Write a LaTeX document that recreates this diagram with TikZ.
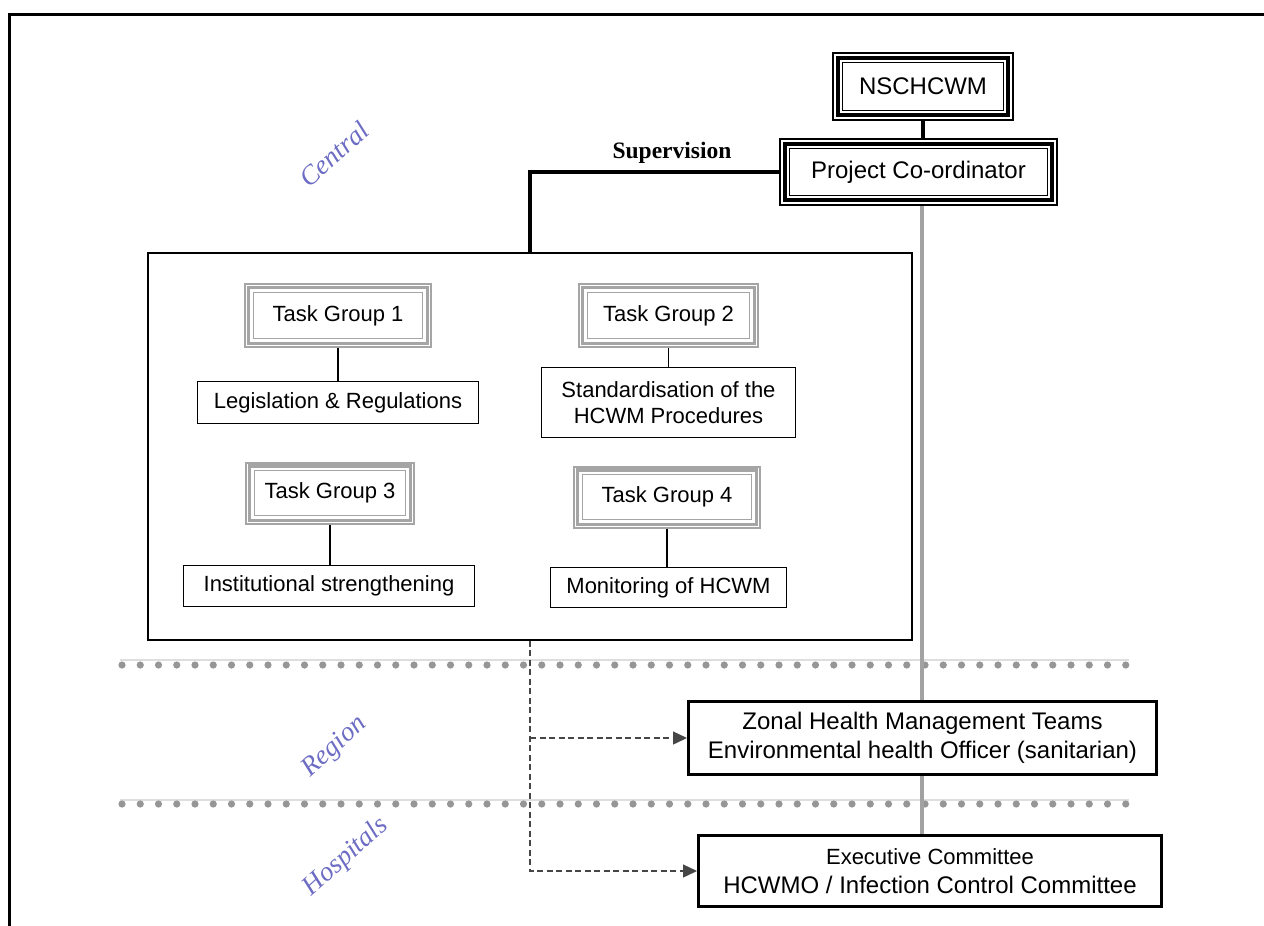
\documentclass[tikz,border=0pt]{standalone}
\usepackage{fontspec}
\setmainfont{Liberation Serif}
\setsansfont{Liberation Sans}
\usetikzlibrary{arrows.meta,backgrounds}

\definecolor{zonecol}{RGB}{108,108,196}
\definecolor{dotgray}{RGB}{150,150,150}
\definecolor{railgray}{RGB}{222,222,222}
\definecolor{spinegray}{RGB}{162,162,162}
\definecolor{tggray}{RGB}{165,165,165}
\definecolor{dashgray}{RGB}{70,70,70}

\newcommand{\fontBig}{\sffamily\fontsize{24}{28.5}\selectfont}
\newcommand{\fontMid}{\sffamily\fontsize{22}{26.5}\selectfont}
\newcommand{\fontZone}{\rmfamily\itshape\fontsize{27}{30}\selectfont}

\begin{document}
\begin{tikzpicture}[x=1pt,y=-1pt,
  basebox/.style={draw, fill=white, inner sep=0pt, align=center},
  headbox/.style={basebox, line width=2pt, font=\fontBig},
  groupbox/.style={basebox, draw=tggray, line width=2pt, font=\fontMid},
  taskbox/.style={basebox, line width=1.3pt, font=\fontMid},
  levelbox/.style={basebox, line width=3pt, font=\fontBig},
  frameline/.style={line width=2.7pt},
  link/.style={line width=1.3pt},
  heavylink/.style={line width=3.5pt},
  spine/.style={draw=spinegray, line width=4pt},
  dashlink/.style={draw=dashgray, line width=1.3pt, dash pattern=on 6pt off 3.5pt,
    -{Triangle[length=14pt,width=13pt,fill=dashgray]}},
  zonelabel/.style={font=\fontZone, text=zonecol, rotate=42, inner sep=0pt}]

\useasboundingbox (0,0) rectangle (1264,926);

% page frame (open at the right and bottom)
\draw[frameline] (9.7,926) -- (9.7,14.3) -- (1264,14.3);

% top of the hierarchy
\node[headbox, minimum width=180, minimum height=67] (nsc) at (923,86.5) {NSCHCWM};
\node[headbox, minimum width=277, minimum height=66] (pc) at (918.5,172) {Project Co-ordinator};
\foreach \n in {nsc,pc}{
  \draw[line width=4pt] ([shift={(5.7,5.7)}]\n.north west) rectangle ([shift={(-5.7,-5.7)}]\n.south east);
  \draw[line width=1.5pt] ([shift={(10.5,10.5)}]\n.north west) rectangle ([shift={(-10.5,-10.5)}]\n.south east);
}

% task group frame
\node[basebox, line width=1.3pt, minimum width=764, minimum height=387] (big) at (530,446.5) {};

\node[groupbox, minimum width=186, minimum height=63] (tg1) at (338,315.5) {Task Group 1};
\node[groupbox, minimum width=179, minimum height=63] (tg2) at (668.5,315.5) {Task Group 2};
\node[groupbox, minimum width=168, minimum height=61] (tg3) at (330,493) {Task Group 3};
\node[groupbox, minimum width=186, minimum height=61] (tg4) at (667,497) {Task Group 4};
\foreach \n in {tg1,tg2,tg3,tg4}{
  \draw[draw=tggray, line width=3.2pt] ([shift={(4.4,4.4)}]\n.north west) rectangle ([shift={(-4.4,-4.4)}]\n.south east);
  \draw[draw=tggray, line width=1.3pt] ([shift={(9.2,9.2)}]\n.north west) rectangle ([shift={(-9.2,-9.2)}]\n.south east);
}

\node[taskbox, minimum width=281, minimum height=42] (leg) at (338,402.5) {Legislation \& Regulations};
\node[taskbox, minimum width=254, minimum height=70] (std) at (668.5,402.5) {Standardisation of the\\HCWM Procedures};
\node[taskbox, minimum width=291, minimum height=41] (inst) at (329,586) {Institutional strengthening};
\node[taskbox, minimum width=236, minimum height=40] (mon) at (668.5,587.5) {Monitoring of HCWM};

\draw[link] (tg1.south) -- (leg.north);
\draw[link] (tg2.south) -- (std.north);
\draw[link] (tg3.south) -- (tg3.south |- inst.north);
\draw[link] (tg4.south) -- (tg4.south |- mon.north);

% regional and hospital level
\node[levelbox, minimum width=468, minimum height=73] (zonal) at (922.5,738)
  {Zonal Health Management Teams\\Environmental health Officer (sanitarian)};
\node[levelbox, minimum width=463, minimum height=71] (exec) at (930,871)
  {{\fontMid Executive Committee}\\HCWMO / Infection Control Committee};

% level separators and the co-ordination spine, behind the boxes
\begin{pgfonlayer}{background}
  \foreach \y in {660,800}{
    \draw[railgray, line width=1.2pt] (120,\y) -- (1129,\y);
  }
  \foreach \y in {665,804}{
    \foreach \i in {0,...,55}{
      \fill[dotgray] (122+18.25*\i,\y) circle (3.6);
    }
  }
  \draw[spine] ([xshift=3.5]pc.south) -- ([xshift=3.5]pc.south |- exec.north);
\end{pgfonlayer}

% supervision links
\draw[heavylink] (nsc.south) -- (nsc.south |- pc.north);
\draw[heavylink] (pc.west) -| (big.north);
\node[font=\rmfamily\bfseries\fontsize{23.5}{28}\selectfont] (sup) at (672,153) {Supervision};

% reporting links
\coordinate (split) at (big.south |- zonal.west);
\draw[dashlink] (big.south) |- (exec.west);
\draw[dashlink] (split) -- (zonal.west);

% level names
\node[zonelabel] (central) at (334,154) {Central};
\node[zonelabel] (region) at (335,747) {Region};
\node[zonelabel] (hosp) at (346,857) {Hospitals};

\end{tikzpicture}
\end{document}
